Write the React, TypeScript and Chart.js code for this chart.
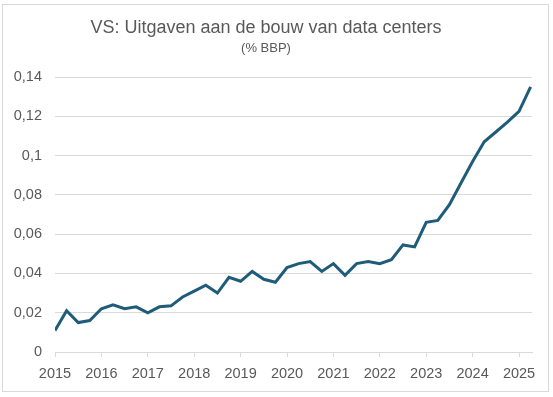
import React, { useEffect, useRef } from "react";
import { Chart, registerables } from "chart.js";

Chart.register(...registerables);

const TITLE = "VS: Uitgaven aan de bouw van data centers";
const SUBTITLE = "(% BBP)";

const quarters: string[] = [
  "2015Q1", "2015Q2", "2015Q3", "2015Q4",
  "2016Q1", "2016Q2", "2016Q3", "2016Q4",
  "2017Q1", "2017Q2", "2017Q3", "2017Q4",
  "2018Q1", "2018Q2", "2018Q3", "2018Q4",
  "2019Q1", "2019Q2", "2019Q3", "2019Q4",
  "2020Q1", "2020Q2", "2020Q3", "2020Q4",
  "2021Q1", "2021Q2", "2021Q3", "2021Q4",
  "2022Q1", "2022Q2", "2022Q3", "2022Q4",
  "2023Q1", "2023Q2", "2023Q3", "2023Q4",
  "2024Q1", "2024Q2", "2024Q3", "2024Q4",
  "2025Q1", "2025Q2",
];

const spending: number[] = [
  0.011, 0.021, 0.015, 0.016,
  0.022, 0.024, 0.022, 0.023,
  0.020, 0.023, 0.0235, 0.028,
  0.031, 0.034, 0.030, 0.038,
  0.036, 0.041, 0.037, 0.0355,
  0.043, 0.045, 0.046, 0.041,
  0.045, 0.039, 0.045, 0.046,
  0.045, 0.047, 0.0545, 0.0535,
  0.066, 0.067, 0.075, 0.086,
  0.097, 0.107, 0.112, 0.117,
  0.1225, 0.135,
];

const yTicks: number[] = [0, 0.02, 0.04, 0.06, 0.08, 0.1, 0.12, 0.14];
const xYears: number[] = [2015, 2016, 2017, 2018, 2019, 2020, 2021, 2022, 2023, 2024, 2025];

const FONT = "'Liberation Sans', Arial, sans-serif";
const TEXT = "#595959";
const GRID = "#d9d9d9";
const LINE = "#1f5c7a";

function quarterToX(q: string): number {
  const year = parseInt(q.slice(0, 4), 10);
  const qi = parseInt(q.slice(5), 10);
  return year + (qi - 1) / 4;
}

export default function App() {
  const canvasRef = useRef<HTMLCanvasElement | null>(null);

  useEffect(() => {
    if (!canvasRef.current) return;
    const points = quarters.map((q, i) => ({ x: quarterToX(q), y: spending[i] }));
    const chart = new Chart(canvasRef.current, {
      type: "line",
      data: {
        datasets: [
          {
            data: points,
            borderColor: LINE,
            borderWidth: 3,
            pointRadius: 0,
            tension: 0,
            fill: false,
          },
        ],
      },
      options: {
        animation: false,
        responsive: false,
        maintainAspectRatio: false,
        layout: { padding: { left: 0, right: 21, top: 0, bottom: 10 } },
        plugins: {
          legend: { display: false },
          tooltip: { enabled: false },
          title: {
            display: true,
            text: TITLE,
            color: TEXT,
            font: { family: FONT, size: 18, weight: "normal" },
            padding: { top: 17, bottom: 0 },
          },
          subtitle: {
            display: true,
            text: SUBTITLE,
            color: TEXT,
            font: { family: FONT, size: 13, weight: "normal" },
            padding: { top: 1.6, bottom: 21.2 },
          },
        },
        scales: {
          x: {
            type: "linear",
            min: xYears[0],
            max: 2025.28,
            afterFit: (scale: any) => {
              scale.height = 35;
            },
            afterBuildTicks: (scale: any) => {
              scale.ticks = xYears.map((v) => ({ value: v }));
            },
            ticks: {
              stepSize: 1,
              includeBounds: false,
              autoSkip: false,
              maxRotation: 0,
              color: TEXT,
              padding: 8,
              font: { family: FONT, size: 14.5 },
              callback: (v: any) => String(v),
            },
            grid: {
              drawOnChartArea: false,
              drawTicks: true,
              tickLength: 5,
              color: GRID,
            },
            border: { display: true, color: GRID, width: 1 },
          },
          y: {
            min: 0,
            max: 0.14,
            afterFit: (scale: any) => {
              scale.width = 55;
            },
            afterBuildTicks: (scale: any) => {
              scale.ticks = yTicks.map((v) => ({ value: v }));
            },
            ticks: {
              stepSize: 0.02,
              color: TEXT,
              padding: 13,
              font: { family: FONT, size: 14.5 },
              callback: (v: any) => String(Number(Number(v).toFixed(2))).replace(".", ","),
            },
            grid: {
              color: GRID,
              drawTicks: false,
              lineWidth: 1,
            },
            border: { display: false },
          },
        },
      },
    });
    return () => chart.destroy();
  }, []);

  return (
    <div style={{ position: "fixed", left: 0, top: 0, width: 553, height: 397, background: "#fff" }}>
      <div
        style={{
          position: "absolute",
          left: 2,
          top: 4,
          width: 547,
          height: 388,
          boxSizing: "border-box",
          border: `1px solid ${GRID}`,
        }}
      />
      <canvas
        ref={canvasRef}
        width={553}
        height={397}
        style={{ position: "absolute", left: 0, top: 0, width: 553, height: 397 }}
      />
    </div>
  );
}
